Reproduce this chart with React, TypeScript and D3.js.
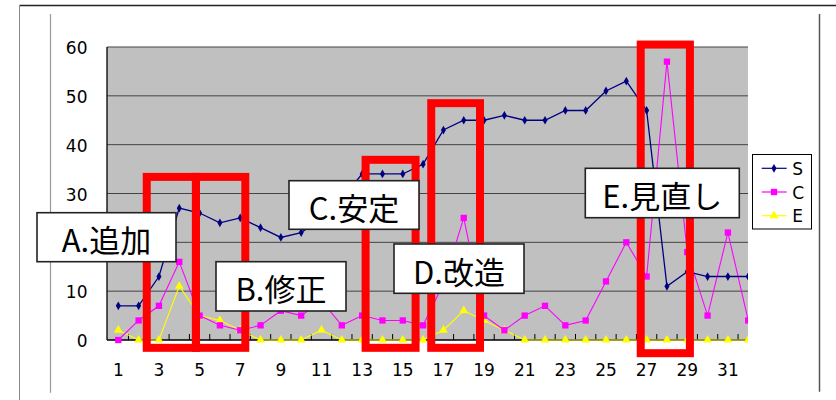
import React from "react";
import * as d3 from "d3";

const categories: number[] = d3.range(1, 33);
const sValues = [7, 7, 13, 27, 26, 24, 25, 23, 21, 22, 25, 29, 34, 34, 34, 36, 43, 45, 45, 46, 45, 45, 47, 47, 51, 53, 47, 11, 14, 13, 13, 13];
const cValues = [0, 4, 7, 16, 5, 3, 2, 3, 6, 5, 8, 3, 5, 4, 4, 3, 11.5, 25, 5, 2, 5, 7, 3, 4, 12, 20, 13, 57, 18, 5, 22, 4];
const eValues = [2, 0, 0, 11, 5, 4, 2, 0, 0, 0, 2, 0, 0, 0, 0, 0, 2, 6, 4, 2, 0, 0, 0, 0, 0, 0, 0, 0, 0, 0, 0, 0];
const yTicks = [0, 10, 20, 30, 40, 50, 60];
const xTickLabels = [1, 3, 5, 7, 9, 11, 13, 15, 17, 19, 21, 23, 25, 27, 29, 31];
const seriesNames = ["S", "C", "E"];
const seriesColors = ["#000080", "#FF00FF", "#FFFF00"];

// highlight ranges in category / value units
const highlightX0 = [2.4, 4.82, 13.17, 16.4, 26.71];
const highlightX1 = [4.82, 7.25, 15.63, 18.8, 29.13];
const highlightTop = [33.4, 33.4, 36.9, 48.5, 60.5];
const highlightBottom = [-1.6, -1.6, -1.6, -1.6, -2.7];

// callout labels (pixel layout)
const calloutText = ["A.追加", "B.修正", "C.安定", "D.改造", "E.見直し"];
const calloutBox = [
  [37, 212.7, 176, 261.7],
  [216, 261.7, 346, 311],
  [289, 180.7, 419, 229.3],
  [394, 244, 524, 293.3],
  [585.3, 168.3, 739.3, 217.7],
];

const W = 836;
const H = 400;
const plotLeft = 107;
const plotRight = 748;
const plotTop = 47;
const plotBottom = 340;

export default function App() {
  const x = d3.scaleLinear().domain([1, 32]).range([118.3, 118.3 + 31 * 20.32]);
  const y = d3.scaleLinear().domain([0, 60]).range([plotBottom, plotTop]);
  const line = d3
    .line<number>()
    .x((_, i) => x(categories[i]))
    .y((d) => y(d));
  const allSeries = [sValues, cValues, eValues];
  const tickPositions = d3.range(1, 33).map((i) => i + 0.5);
  const diamond = d3.symbol(d3.symbolDiamond, 22)()!;
  const square = d3.symbol(d3.symbolSquare, 40)()!;
  const triangle = d3.symbol(d3.symbolTriangle, 34)()!;
  const markers = [diamond, square, triangle];
  const axisFont = "'DejaVu Sans', sans-serif";

  return (
    <svg width={W} height={H} style={{ position: "absolute", left: 0, top: 0, background: "#fff" }}>
      <defs>
        <clipPath id="plotClip">
          <rect x={plotLeft} y={0} width={plotRight - plotLeft} height={H} />
        </clipPath>
      </defs>
      {/* outer frame */}
      <line x1={19.5} y1={5.5} x2={836} y2={5.5} stroke="#222" strokeWidth={1.5} />
      <line x1={19.5} y1={5.5} x2={19.5} y2={400} stroke="#888" strokeWidth={1} />
      <line x1={50.5} y1={14} x2={50.5} y2={392.7} stroke="#999" strokeWidth={1.2} />
      <line x1={819.5} y1={14} x2={819.5} y2={391.7} stroke="#555" strokeWidth={1.5} />

      {/* plot area */}
      <rect x={plotLeft} y={plotTop} width={plotRight - plotLeft} height={plotBottom - plotTop} fill="#C0C0C0" />
      {yTicks.filter((t) => t > 0).map((t) => (
        <line key={t} x1={plotLeft} x2={plotRight} y1={y(t)} y2={y(t)} stroke="#444" strokeWidth={1} />
      ))}
      <line x1={plotLeft} x2={plotLeft} y1={plotTop} y2={plotBottom} stroke="#000" strokeWidth={1.3} />
      <line x1={plotLeft} x2={plotRight} y1={plotBottom} y2={plotBottom} stroke="#000" strokeWidth={1.3} />
      <g clipPath="url(#plotClip)">
        {tickPositions.map((t) => (
          <line key={t} x1={x(t)} x2={x(t)} y1={plotBottom} y2={plotBottom - 6} stroke="#000" strokeWidth={1} />
        ))}
      </g>
      {yTicks.map((t) => (
        <text key={t} x={87.5} y={y(t) + 1} textAnchor="end" dominantBaseline="central" fontFamily={axisFont} fontSize={17} fill="#000">
          {t}
        </text>
      ))}
      {xTickLabels.map((t) => (
        <text key={t} x={x(t)} y={370} textAnchor="middle" dominantBaseline="central" fontFamily={axisFont} fontSize={17} fill="#000">
          {t}
        </text>
      ))}

      {/* series */}
      <g clipPath="url(#plotClip)">
        {[2, 1, 0].map((si) => (
          <g key={si}>
            <path d={line(allSeries[si])!} fill="none" stroke={seriesColors[si]} strokeWidth={si === 0 ? 1.3 : 1.1} />
            {allSeries[si].map((v, i) => (
              <path key={i} d={markers[si]} transform={`translate(${x(categories[i])},${y(v)})`} fill={seriesColors[si]} />
            ))}
          </g>
        ))}
      </g>

      {/* highlight boxes */}
      {highlightX0.map((x0, i) => (
        <rect
          key={i}
          x={x(x0)}
          y={y(highlightTop[i])}
          width={x(highlightX1[i]) - x(x0)}
          height={y(highlightBottom[i]) - y(highlightTop[i])}
          fill="none"
          stroke="#FF0000"
          strokeWidth={8}
        />
      ))}

      {/* callouts */}
      {calloutText.map((t, i) => {
        const [x0, y0, x1, y1] = calloutBox[i];
        return (
          <g key={t}>
            <rect x={x0} y={y0} width={x1 - x0} height={y1 - y0} fill="#fff" stroke="#222" strokeWidth={1.6} />
            <text
              x={(x0 + x1) / 2}
              y={(y0 + y1) / 2 + 1.5}
              textAnchor="middle"
              dominantBaseline="central"
              fontFamily="'Noto Sans CJK JP', sans-serif"
              fontSize={31}
              fill="#000"
            >
              {t}
            </text>
          </g>
        );
      })}

      {/* legend */}
      <rect x={752.5} y={154.5} width={59} height={74.5} fill="#fff" stroke="#000" strokeWidth={1} />
      {seriesNames.map((n, i) => {
        const ly = 168.3 + i * 23.7;
        return (
          <g key={n}>
            <line x1={761.7} x2={786.7} y1={ly} y2={ly} stroke={seriesColors[i]} strokeWidth={1.2} />
            <path d={markers[i]} transform={`translate(774,${ly})`} fill={seriesColors[i]} />
            <text x={792.3} y={ly + 0.5} dominantBaseline="central" fontFamily={axisFont} fontSize={17} fill="#000">
              {n}
            </text>
          </g>
        );
      })}
    </svg>
  );
}
